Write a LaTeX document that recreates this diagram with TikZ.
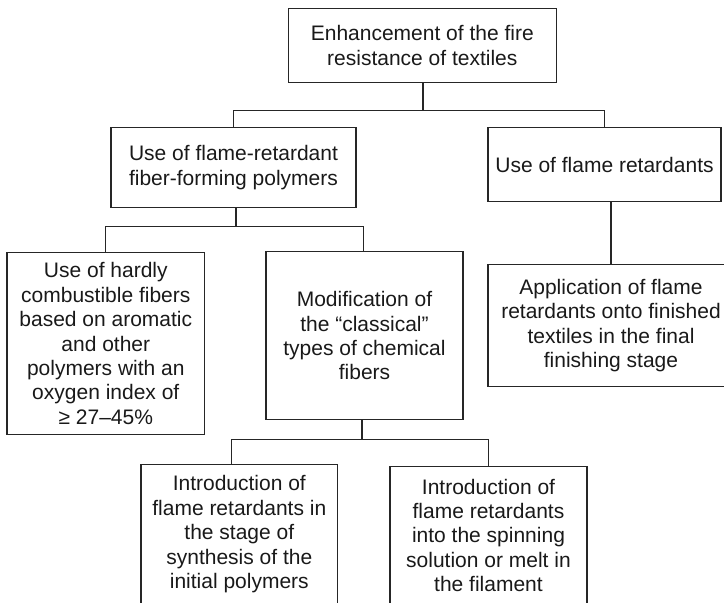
\documentclass[tikz,border=0pt]{standalone}
\usepackage{fontspec}
\setmainfont{Liberation Sans}
\usetikzlibrary{positioning}

\begin{document}
\begin{tikzpicture}[
    x=0.5pt, y=-0.5pt,
    box/.style={rectangle, draw=black!85, line width=0.6pt, align=center, inner sep=0pt, text=black!90, font=\fontsize{10.5}{12.2}\selectfont},
    link/.style={draw=black!85, line width=0.6pt}
]
    \useasboundingbox (0,0) rectangle (724,602);

    % Goal
    \node[box, minimum width=133.8pt, minimum height=37pt] (goal) at (422.3,45.3) {Enhancement of the fire\\resistance of textiles};

    % Two ways
    \node[box, minimum width=122.5pt, minimum height=39.8pt] (polymers) at (233.5,167.5) {Use of flame-retardant\\fiber-forming polymers};
    \node[box, minimum width=116.5pt, minimum height=36.8pt] (retardants) at (604.5,164.5) {Use of flame retardants};

    % Fibers
    \node[box, minimum width=98.8pt, minimum height=90.8pt] (hardly) at (105.8,343.5) {Use of hardly\\combustible fibers\\based on aromatic\\and other\\polymers with an\\oxygen index of\\≥ 27–45\%};
    \node[box, minimum width=98.5pt, minimum height=84pt] (modif) at (364.5,335.7) {Modification of\\the “classical”\\types of chemical\\fibers};

    % Finishing
    \node[box, minimum width=123pt, minimum height=61.2pt] (finish) at (611,325.5) {Application of flame\\retardants onto finished\\textiles in the final\\finishing stage};

    % Introduction
    \node[box, minimum width=98.3pt, minimum height=69.7pt] (synth) at (239.3,534.3) {Introduction of\\flame retardants in\\the stage of\\synthesis of the\\initial polymers};
    \node[box, minimum width=98.5pt, minimum height=68.7pt] (spin) at (488.5,535.3) {Introduction of\\flame retardants\\into the spinning\\solution or melt in\\the filament};

    % Connections
    \coordinate (j1) at (423,110.7);
    \coordinate (j2) at (236,226.7);
    \coordinate (j3) at (362,439.7);
    \draw[link] (goal.south -| j1) -- (j1);
    \draw[link] (j1) -| (polymers.north);
    \draw[link] (j1) -| (retardants.north);
    \draw[link] (polymers.south -| j2) -- (j2);
    \draw[link] (j2) -| (hardly.north);
    \draw[link] (j2) -| ([xshift=-0.7pt]modif.north);
    \draw[link] (finish.north) -- (finish.north |- retardants.south);
    \draw[link] (modif.south -| j3) -- (j3);
    \draw[link] (j3) -| ([xshift=-4.1pt]synth.north);
    \draw[link] (j3) -| (spin.north);

\end{tikzpicture}
\end{document}
